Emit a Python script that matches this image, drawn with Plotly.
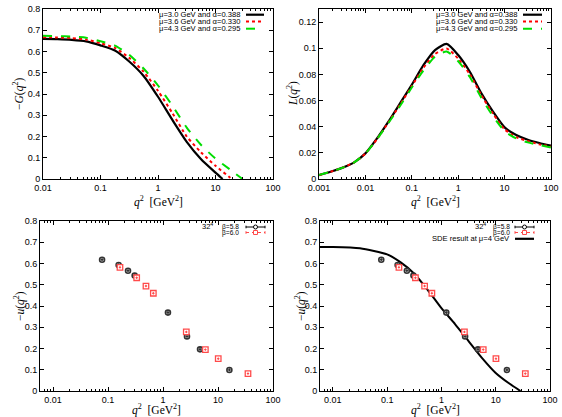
import math
import plotly.graph_objects as go

# ---- data ----
# top-left: -G(q^2), quarter-decade grid
qG = [0.01, 0.0178, 0.0316, 0.0562, 0.1, 0.178, 0.316, 0.562, 1, 1.78, 3.16, 5.62, 10, 17.8]
G_1 = [0.659, 0.658, 0.655, 0.648, 0.629, 0.605, 0.553, 0.485, 0.387, 0.278, 0.175, 0.093, 0.030]
G_1_end = 13.3
G_2 = [0.667, 0.666, 0.663, 0.657, 0.639, 0.617, 0.570, 0.505, 0.415, 0.310, 0.200, 0.125, 0.062, 0.007]
G_2_end = 19.0
G_3 = [0.674, 0.673, 0.670, 0.665, 0.648, 0.628, 0.585, 0.520, 0.440, 0.345, 0.242, 0.160, 0.096, 0.045]
G_3_end = 29.5

# top-right: L(q^2), quarter-decade grid
qL = [0.001, 0.00178, 0.00316, 0.00562, 0.01, 0.0178, 0.0316, 0.0562, 0.1, 0.178, 0.316, 0.562,
      1, 1.78, 3.16, 5.62, 10, 17.8, 31.6, 56.2, 100]
L_1 = [0.003, 0.0055, 0.0085, 0.0125, 0.0196, 0.031, 0.044, 0.058, 0.072, 0.087, 0.0986, 0.1033,
       0.0948, 0.082, 0.0655, 0.0515, 0.0395, 0.0336, 0.030, 0.0275, 0.0255]
L_2 = [0.003, 0.0055, 0.0085, 0.0125, 0.0195, 0.0305, 0.0435, 0.057, 0.071, 0.085, 0.0955, 0.0998,
       0.0920, 0.080, 0.064, 0.050, 0.038, 0.032, 0.029, 0.0265, 0.0248]
L_3 = [0.003, 0.0055, 0.0085, 0.0125, 0.0195, 0.0305, 0.043, 0.056, 0.070, 0.083, 0.0935, 0.0975,
       0.0900, 0.078, 0.062, 0.048, 0.0365, 0.031, 0.028, 0.026, 0.024]

labels_mu = ["μ=3.0 GeV and α=0.388", "μ=3.6 GeV and α=0.330", "μ=4.3 GeV and α=0.295"]

# bottom: lattice -u(q^2)
q_b58 = [0.078, 0.156, 0.231, 0.305, 1.23, 2.73, 4.71, 16.1]
u_b58 = [0.618, 0.593, 0.566, 0.543, 0.369, 0.257, 0.196, 0.099]
q_b60 = [0.165, 0.332, 0.49, 0.667, 2.65, 5.89, 10.1, 35.1]
u_b60 = [0.582, 0.533, 0.494, 0.460, 0.278, 0.195, 0.152, 0.082]

# SDE result at mu = 4 GeV
q_sde = [0.0058, 0.01, 0.0316, 0.1, 0.178, 0.316, 0.562, 1, 1.78, 3.16, 5.62, 10, 17.8, 28.6]
u_sde = [0.678, 0.678, 0.672, 0.643, 0.605, 0.552, 0.475, 0.390, 0.315, 0.235, 0.155, 0.085, 0.035, 0.0]

W, H = 562, 417
TICKFONT = dict(family="Liberation Sans", size=9, color="black")
TITLEFONT = dict(family="Liberation Serif", size=11.5, color="black")
LEGFONT = dict(family="Liberation Sans", size=7.6, color="black")


def px(x):
    return x / W


def py(y):
    return 1 - y / H


# panel frames in pixels: (left, right, top, bottom)
frames = {
    1: (43, 273, 9, 179),
    2: (319, 551, 9, 179),
    3: (40, 273, 221, 391),
    4: (320, 550, 221, 391),
}


def minor_log(lo, hi):
    out = []
    d = lo
    while d < hi:
        for k in range(2, 10):
            out.append(round(k * d, 8))
        d *= 10
    return out


fig = go.Figure()

line_styles = [
    dict(color="black", width=2.2, dash="solid"),
    dict(color="#ff0000", width=2, dash="dot"),
    dict(color="#00dd00", width=2, dash="dash"),
]

for vs, end, st in zip([G_1, G_2, G_3], [G_1_end, G_2_end, G_3_end], line_styles):
    qs = qG[:len(vs)] + [end]
    fig.add_trace(go.Scatter(x=qs, y=vs + [0.0], mode="lines",
                             line=dict(shape="spline", smoothing=0.6, **st),
                             xaxis="x", yaxis="y", showlegend=False))

for vs, st in zip([L_1, L_2, L_3], line_styles):
    fig.add_trace(go.Scatter(x=qL, y=vs, mode="lines", line=dict(shape="spline", smoothing=0.6, **st),
                             xaxis="x2", yaxis="y2", showlegend=False))

for xa, ya in [("x3", "y3"), ("x4", "y4")]:
    if xa == "x4":
        fig.add_trace(go.Scatter(x=q_sde, y=u_sde, mode="lines",
                                 line=dict(color="black", width=2, shape="spline", smoothing=0.6),
                                 xaxis=xa, yaxis=ya, showlegend=False))
    fig.add_trace(go.Scatter(x=q_b58, y=u_b58, mode="markers",
                             marker=dict(symbol="circle-dot", size=5, color="white",
                                         line=dict(width=1.6, color="#333333")),
                             xaxis=xa, yaxis=ya, showlegend=False))
    fig.add_trace(go.Scatter(x=q_b60, y=u_b60, mode="markers",
                             marker=dict(symbol="square-dot", size=5.5, color="white",
                                         line=dict(width=1.3, color="#ff4a4a")),
                             xaxis=xa, yaxis=ya, showlegend=False))

axis_common = dict(showgrid=False, zeroline=False, showline=True, linecolor="black", linewidth=1,
                   mirror="allticks", ticks="inside", ticklen=4, tickcolor="black", tickfont=TICKFONT,
                   automargin=False)

log_ranges = {1: (0.01, 100), 2: (0.001, 100), 3: (0.0058, 100), 4: (0.0058, 100)}
y_ranges = {1: (0, 0.8), 2: (0, 0.13), 3: (0, 0.8), 4: (0, 0.8)}
y_ticks = {
    1: [0, 0.1, 0.2, 0.3, 0.4, 0.5, 0.6, 0.7, 0.8],
    2: [0, 0.02, 0.04, 0.06, 0.08, 0.1, 0.12],
    3: [0, 0.1, 0.2, 0.3, 0.4, 0.5, 0.6, 0.7, 0.8],
    4: [0, 0.1, 0.2, 0.3, 0.4, 0.5, 0.6, 0.7, 0.8],
}
x_ticks = {1: [0.01, 0.1, 1, 10, 100], 2: [0.001, 0.01, 0.1, 1, 10, 100],
           3: [0.01, 0.1, 1, 10, 100], 4: [0.01, 0.1, 1, 10, 100]}

layout = dict(width=W, height=H, margin=dict(l=0, r=0, t=0, b=0), plot_bgcolor="white",
              paper_bgcolor="white", showlegend=False)
for i, (l, r, t, b) in frames.items():
    sx = "" if i == 1 else str(i)
    lo, hi = log_ranges[i]
    layout["xaxis" + sx] = dict(axis_common, type="log", domain=[px(l), px(r)],
                                range=[math.log10(lo), math.log10(hi)], anchor="y" + sx,
                                tickmode="array", tickvals=x_ticks[i],
                                ticktext=[("%g" % v) for v in x_ticks[i]],
                                minor=dict(ticks="inside", ticklen=2, tickcolor="black",
                                           tickmode="array", tickvals=minor_log(0.001, 100)))
    layout["yaxis" + sx] = dict(axis_common, domain=[py(b), py(t)], range=list(y_ranges[i]),
                                anchor="x" + sx, tickmode="array", tickvals=y_ticks[i],
                                ticktext=[("%g" % v) for v in y_ticks[i]])
fig.update_layout(**layout)

annotations = []
shapes = []
ytitles = {1: "−<i>G</i>(<i>q</i><sup>2</sup>)", 2: "<i>L</i>(<i>q</i><sup>2</sup>)",
           3: "−<i>u</i>(<i>q</i><sup>2</sup>)", 4: "−<i>u</i>(<i>q</i><sup>2</sup>)"}
ytitle_x = {1: 19, 2: 293, 3: 19, 4: 300}
xtitle_y = {1: 201, 2: 201, 3: 409, 4: 409}
for i, (l, r, t, b) in frames.items():
    annotations.append(dict(text="<i>q</i><sup>2</sup>  [GeV<sup>2</sup>]", x=px((l + r) / 2),
                            y=py(xtitle_y[i]), xref="paper", yref="paper", showarrow=False,
                            font=TITLEFONT, xanchor="center", yanchor="middle"))
    annotations.append(dict(text=ytitles[i], x=px(ytitle_x[i]), y=py((t + b) / 2), xref="paper",
                            yref="paper", showarrow=False, font=TITLEFONT, textangle=-90,
                            xanchor="center", yanchor="middle"))

# top legends
for text_right, key0, key1 in [(242, 246, 264), (519, 523, 542)]:
    for j, (lab, st) in enumerate(zip(labels_mu, line_styles)):
        yy = [14.7, 21.5, 28.7][j]
        annotations.append(dict(text=lab, x=px(text_right), y=py(yy), xref="paper", yref="paper",
                                showarrow=False, font=LEGFONT, xanchor="right", yanchor="middle"))
        shapes.append(dict(type="line", xref="paper", yref="paper", x0=px(key0), x1=px(key1),
                           y0=py(yy), y1=py(yy), line=st))

# bottom legends
for text_right, t32, key0, key1, sde in [(241, 207, 246, 265, False), (512, 480, 515, 534, True)]:
    annotations.append(dict(text="32<sup>4</sup>", x=px(t32), y=py(226), xref="paper", yref="paper",
                            showarrow=False, font=dict(LEGFONT, size=7.5), xanchor="center",
                            yanchor="middle"))
    for j, (lab, col, dash) in enumerate([("β=5.8", "black", "solid"), ("β=6.0", "#ff4a4a", "dot")]):
        yy = [227, 232.5][j]
        annotations.append(dict(text=lab, x=px(text_right), y=py(yy), xref="paper", yref="paper",
                                showarrow=False, font=dict(LEGFONT, size=6.6), xanchor="right",
                                yanchor="middle"))
        shapes.append(dict(type="line", xref="paper", yref="paper", x0=px(key0), x1=px(key1),
                           y0=py(yy), y1=py(yy), line=dict(color=col, width=1, dash=dash)))
        for xe in (key0, key1):
            shapes.append(dict(type="line", xref="paper", yref="paper", x0=px(xe), x1=px(xe),
                               y0=py(yy - 1.3), y1=py(yy + 1.3), line=dict(color=col, width=1)))
        xm = (key0 + key1) / 2
        shapes.append(dict(type="circle" if j == 0 else "rect", xref="paper", yref="paper",
                           x0=px(xm - 2), x1=px(xm + 2), y0=py(yy - 2), y1=py(yy + 2),
                           line=dict(color=col, width=1), fillcolor="white"))
    if sde:
        yy = 238.8
        annotations.append(dict(text="SDE result at μ=4 GeV", x=px(text_right), y=py(yy), xref="paper",
                                yref="paper", showarrow=False, font=LEGFONT, xanchor="right",
                                yanchor="middle"))
        shapes.append(dict(type="line", xref="paper", yref="paper", x0=px(key0), x1=px(key1),
                           y0=py(yy), y1=py(yy), line=dict(color="black", width=2.2)))

fig.update_layout(annotations=annotations, shapes=shapes)

# the page body has a default 8px margin; drop it so the figure fills the window
fig.write_html("out.html", config={"displayModeBar": False},
               post_script="document.body.style.margin='0';")
